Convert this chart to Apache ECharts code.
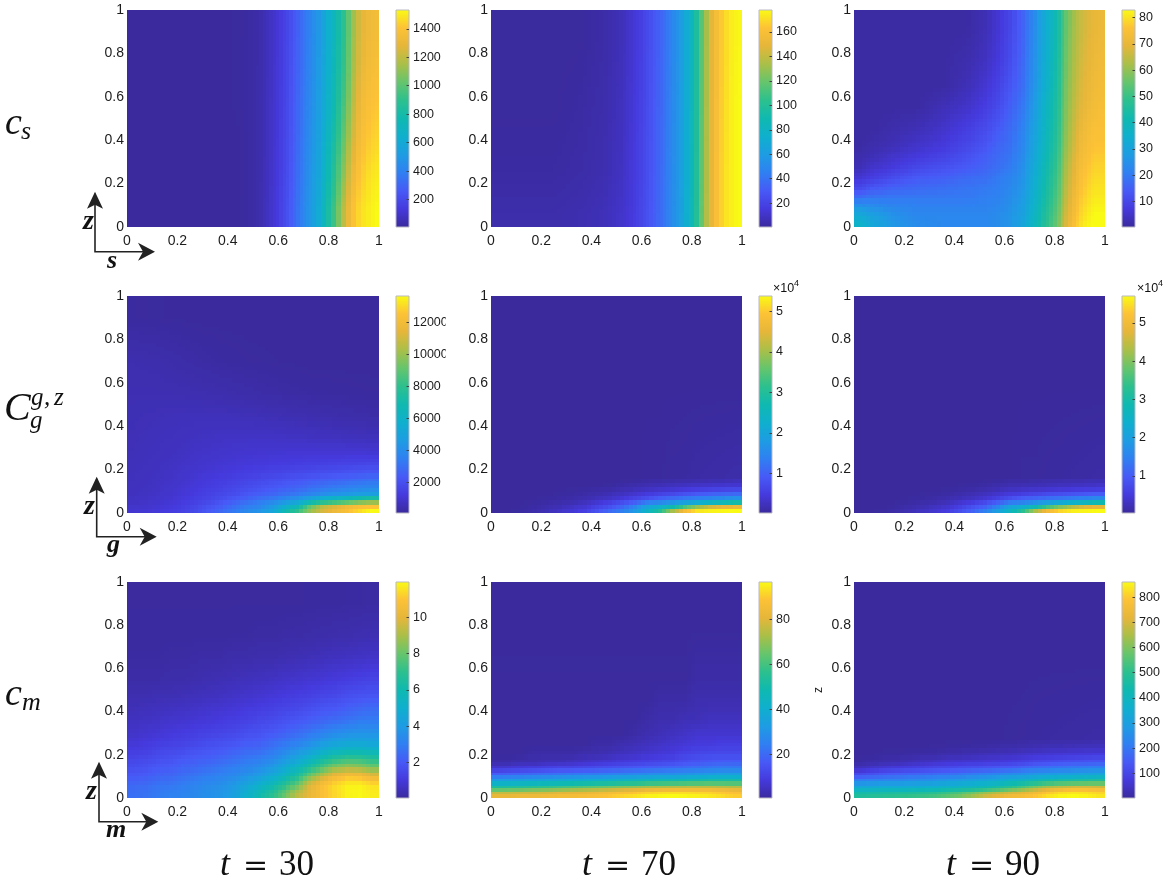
<!DOCTYPE html>
<html><head><meta charset="utf-8">
<script src="https://cdn.jsdelivr.net/npm/echarts@6/dist/echarts.min.js"></script>
<style>html,body{margin:0;padding:0;background:#fff}#c{width:1170px;height:881px}</style></head>
<body><div id="c"></div><script>
// ---- shared axis edges ----
const topX=[0,.1,.2,.3,.4,.5,.54,.58,.62,.66,.7,.725,.75,.77,.79,.81,.83,.85,.87,.89,.91,.93,.95,.97,.985,1];
const x20=[0,.05,.1,.15,.2,.25,.3,.35,.4,.45,.5,.55,.6,.65,.7,.75,.8,.85,.9,.95,1];
const parula=['#3a2a9c','#4539dc','#4759f6','#307ff2','#1e9ce3','#0fafce','#0fb9b0','#2cc08e','#66c56c','#aabf48','#e6b63a','#fdc236','#f9fb14'];
// ---- row 1: c_s ----
const csT30Z=[0,.15,.3,.5,.65,.8,1];
const csT30=[
[8,8,8,9,10,30,80,140,230,350,450,520,610,720,820,930,1060,1190,1310,1400,1450,1480,1500,1520,1530],
[8,8,8,9,11,30,75,135,215,330,430,500,580,670,770,870,980,1100,1230,1330,1400,1440,1470,1490,1500],
[8,8,9,9,11,30,72,130,205,315,410,475,550,630,720,810,910,1020,1140,1250,1340,1390,1420,1440,1450],
[9,9,9,10,12,30,72,125,200,305,395,455,525,600,680,760,850,950,1070,1190,1290,1350,1380,1400,1410],
[9,9,9,10,12,30,70,122,195,295,380,440,510,580,655,735,815,910,1030,1150,1250,1310,1345,1365,1375],
[9,9,9,10,12,28,68,120,190,285,370,430,495,565,640,715,795,890,1010,1130,1230,1290,1320,1340,1350]];
const csT70Z=[0,.1,.4,.7,1];
const csT70=[
[4,4,4,5,7,11,15,21,29,38,47,55,64,74,86,100,118,136,150,160,167,172,175,177,178],
[2,2,2,3,5,9,14,20,28,37,46,54,63,73,85,99,117,135,150,160,167,172,175,177,178],
[1,1,1,2,4,8,13,19,27,36,45,53,62,72,84,98,116,134,149,159,166,171,175,177,178],
[1,1,1,1,3,7,12,18,26,35,44,52,61,71,83,97,115,133,148,158,165,170,174,176,177]];
const csT90X=[0,.05,.1,.2,.3,.4,.5,.55,.6,.65,.7,.73,.765,.795,.825,.855,.885,.915,.945,.975,1];
const csT90Z=[0,.03,.07,.11,.15,.2,.25,.3,.35,.4,.5,.6,.7,.85,1];
const csT90=[
[36,32,27,24,23,23,23,24,26,31,38,44,50,56,66,73,79,82,83,83],
[33,30,26,23,23,23,23,24,26,30,37,43,49,55,65,72,78,81,83,83],
[27,25,23,22,22,22,22,23,25,29,36,42,48,54,64,71,77,80,82,82],
[19,20,20,20,20,20,21,22,24,28,35,41,47,53,63,70,76,79,81,81],
[11,14,16,17,18,19,20,21,23,27,34,40,46,52,62,69,75,78,80,80],
[6,8,11,14,15,17,18,20,22,26,33,39,45,51,61,68,74,77,79,79],
[3,5,7,10,12,14,16,18,20,25,32,38,44,50,60,67,73,76,78,78],
[2,3,5,7,9,12,15,17,19,24,31,37,43,49,59,66,72,75,77,77],
[1,2,3,5,7,10,13,16,18,23,30,36,42,48,58,65,71,74,76,76],
[1,1,2,3,5,8,11,14,17,22,29,35,41,47,57,64,70,73,75,75],
[1,1,1,1,3,5,8,11,15,20,27,34,40,46,56,63,68,71,73,74],
[1,1,1,1,1,3,6,9,13,18,25,32,38,45,55,62,67,70,72,73],
[1,1,1,1,1,2,4,7,11,17,24,31,37,44,54,61,66,69,71,72],
[1,1,1,1,1,1,3,6,10,16,23,30,36,43,53,60,65,68,70,71]];
// ---- row 2: C_g ----
const cgT30Z=[0,.02,.04,.06,.08,.1,.13,.16,.2,.25,.3,.4,.5,.6,.8,1];
const cgT30=[
[1000,1050,1150,1300,1500,1800,2300,2800,3300,3800,4300,5000,6500,8000,9800,11000,11700,12300,13000,13600],
[900,950,1050,1200,1400,1700,2100,2500,3000,3400,3800,4500,5600,6800,9000,10500,11200,11800,12300,12500],
[800,850,950,1100,1300,1500,1800,2200,2600,3000,3400,3900,4500,5300,6800,7800,8400,9000,9600,10000],
[750,800,900,1000,1200,1400,1600,1900,2200,2500,2900,3200,3600,4100,4800,5500,6000,6400,6900,7200],
[700,750,850,950,1100,1300,1500,1700,1900,2200,2500,2700,3000,3300,3700,4000,4300,4500,4700,4800],
[680,720,800,900,1050,1200,1350,1500,1700,1900,2100,2300,2500,2700,3000,3200,3400,3600,3800,3900],
[650,700,760,850,950,1100,1250,1350,1500,1650,1800,2000,2150,2300,2500,2650,2800,2950,3100,3200],
[630,680,730,800,900,1000,1100,1200,1300,1400,1500,1600,1700,1800,1900,2000,2100,2200,2300,2400],
[600,650,700,760,830,900,970,1040,1100,1150,1200,1250,1300,1350,1400,1450,1500,1550,1600,1650],
[580,620,660,710,760,820,870,920,960,1000,1020,1040,1060,1070,1080,1080,1080,1080,1070,1050],
[560,590,620,650,690,720,750,780,800,800,800,790,770,750,720,700,670,640,620,600],
[530,550,570,590,600,610,610,600,590,570,540,510,480,450,420,390,360,330,310,290],
[480,480,480,470,460,440,420,390,360,330,300,270,240,220,200,190,180,170,160,150],
[420,400,380,340,300,260,220,190,170,150,140,130,120,110,100,100,100,100,100,100],
[150,140,130,120,110,100,100,100,100,100,100,100,100,100,100,100,100,100,100,100]];
const cgLateZ=[0,.02,.04,.06,.08,.1,.12,.14,.16,.18,1];
const cgT70=[
[.02,.03,.06,.12,.2,.3,.4,.55,.8,1.1,1.35,1.8,2.4,3.0,4.0,4.8,5.2,5.3,5.35,5.38],
[.02,.02,.04,.08,.14,.2,.3,.4,.6,.8,1.05,1.5,2.0,2.3,2.7,3.4,3.9,4.3,4.5,4.6],
[.02,.02,.03,.05,.08,.12,.17,.25,.4,.55,.75,1.0,1.35,1.5,1.7,1.95,2.15,2.4,2.6,2.8],
[.02,.02,.02,.03,.05,.07,.1,.15,.22,.3,.42,.6,.75,.95,1.1,1.25,1.35,1.45,1.55,1.65],
[.02,.02,.02,.02,.03,.04,.06,.09,.13,.2,.27,.38,.48,.58,.68,.8,.9,.98,1.05,1.1],
[.02,.02,.02,.02,.02,.03,.04,.05,.08,.1,.16,.22,.28,.34,.4,.46,.52,.58,.62,.66],
[.02,.02,.02,.02,.02,.02,.02,.02,.03,.04,.08,.12,.17,.2,.23,.27,.3,.33,.36,.38],
[.02,.02,.02,.02,.02,.02,.02,.02,.02,.02,.04,.05,.08,.1,.12,.14,.16,.18,.2,.22],
[.02,.02,.02,.02,.02,.02,.02,.02,.02,.02,.02,.02,.03,.03,.05,.06,.08,.09,.1,.11],
[.02,.02,.02,.02,.02,.02,.02,.02,.02,.02,.02,.02,.02,.02,.02,.02,.02,.02,.02,.02]];
const cgT90=[
[.03,.04,.06,.12,.2,.3,.4,.55,.8,1.1,1.5,2.0,2.6,3.3,4.3,5.0,5.4,5.6,5.65,5.7],
[.03,.03,.04,.08,.14,.2,.3,.4,.6,.85,1.1,1.55,2.1,2.4,2.85,3.5,4.0,4.4,4.7,4.8],
[.03,.03,.03,.05,.08,.12,.17,.25,.4,.55,.75,1.05,1.4,1.55,1.75,2.0,2.25,2.45,2.65,2.85],
[.03,.03,.03,.03,.05,.07,.1,.16,.22,.3,.42,.6,.8,1.0,1.1,1.2,1.3,1.4,1.5,1.6],
[.03,.03,.03,.03,.03,.05,.06,.09,.14,.2,.28,.38,.5,.58,.66,.75,.82,.88,.95,1.0],
[.03,.03,.03,.03,.03,.03,.04,.05,.08,.11,.16,.22,.3,.34,.38,.42,.46,.5,.53,.56],
[.03,.03,.03,.03,.03,.03,.03,.03,.05,.06,.09,.13,.18,.2,.22,.24,.27,.3,.32,.34],
[.03,.03,.03,.03,.03,.03,.03,.03,.03,.03,.05,.06,.1,.11,.12,.16,.17,.18,.2,.22],
[.03,.03,.03,.03,.03,.03,.03,.03,.03,.03,.03,.03,.03,.05,.05,.06,.07,.08,.09,.1],
[.03,.03,.03,.03,.03,.03,.03,.03,.03,.03,.03,.03,.03,.03,.03,.03,.03,.03,.03,.03]];
// ---- row 3: c_m ----
const cmT30Z=[0,.04,.08,.12,.16,.2,.24,.28,.32,.38,.44,.5,.6,.7,.8,1];
const cmT30=[
[2.6,2.7,2.9,3.1,3.2,3.4,3.6,3.8,4.2,5,6,6.8,7.9,9.3,10.1,10.8,11.3,11.8,11.9,11.7],
[2.4,2.5,2.7,2.8,3,3.2,3.4,3.6,3.9,4.4,5.1,5.8,6.8,8,9.8,10.8,11.4,11.8,11.8,11.5],
[2,2.1,2.3,2.4,2.6,2.8,3,3.2,3.4,3.7,4.1,4.7,5.5,6.6,8.2,9.4,10.4,10.9,10.8,10.2],
[1.7,1.8,2,2.1,2.3,2.4,2.6,2.8,3,3.2,3.5,3.9,4.6,5.5,6.5,7.5,8.5,8.9,8.7,8.2],
[1.4,1.5,1.7,1.8,2,2.1,2.2,2.4,2.6,2.8,3,3.3,3.8,4.5,5.3,6.1,6.8,7.2,7.1,6.8],
[1.1,1.2,1.4,1.5,1.6,1.8,1.9,2,2.2,2.4,2.5,2.8,3.2,3.7,4.2,4.8,5.3,5.6,5.6,5.4],
[.9,1,1.1,1.2,1.3,1.4,1.6,1.7,1.8,2,2.1,2.4,2.7,3,3.4,3.8,4.2,4.4,4.4,4.3],
[.7,.8,.9,1,1.1,1.2,1.3,1.4,1.5,1.7,1.8,2,2.2,2.5,2.8,3.1,3.4,3.6,3.7,3.7],
[.6,.65,.7,.8,.85,.95,1,1.1,1.2,1.3,1.5,1.6,1.8,2,2.2,2.4,2.6,2.8,3,3],
[.45,.5,.55,.6,.65,.7,.8,.85,.95,1.05,1.15,1.25,1.4,1.5,1.7,1.9,2,2.2,2.4,2.5],
[.35,.35,.4,.4,.45,.5,.55,.6,.7,.75,.85,.95,1.05,1.15,1.25,1.4,1.5,1.7,1.8,1.9],
[.2,.2,.2,.25,.25,.3,.35,.4,.45,.5,.55,.6,.7,.75,.85,.9,1,1.1,1.2,1.3],
[.12,.12,.12,.15,.15,.18,.2,.2,.25,.25,.3,.3,.35,.4,.45,.5,.55,.6,.65,.7],
[.1,.1,.1,.1,.1,.1,.1,.1,.12,.12,.15,.15,.18,.2,.22,.25,.28,.3,.35,.38],
[.08,.08,.08,.08,.08,.08,.08,.08,.08,.08,.08,.08,.08,.08,.09,.1,.1,.12,.12,.15]];
const cmT70Z=[0,.03,.06,.09,.12,.15,.18,.22,.27,.32,.4,.5,.6,1];
const cmT70=[
[82,82,83,83,84,85,85,86,87,89,91,93,95,96,96.6,96,95,94,92,90],
[58,59,60,62,63,65,67,69,71,73,75,77,79,80,81,82,82,82,81,80],
[37,38,39,40,41,42,43,44,45,46,48,49,51,52,53,54,55,56,56,56],
[20,21,22,23,24,25,26,27,27,28,29,30,31,32,32,33,34,35,36,36],
[8,9,10,11,12,13,13,14,15,16,17,18,19,20,21,22,23,24,25,25],
[2,2,3,3,4,4,5,6,7,8,9,10,11,12,13,15,16,17,18,18],
[1,1,1,2,2,2,2,3,3,4,5,6,7,8,9,11,12,13,13,13],
[1,1,1,1,1,1,1,1,2,2,3,4,5,6,7,8,9,9,10,10],
[1,1,1,1,1,1,1,1,1,1,1,2,3,4,5,6,7,7,7,7],
[1,1,1,1,1,1,1,1,1,1,1,1,2,3,3,4,4,5,5,5],
[1,1,1,1,1,1,1,1,1,1,1,1,1,2,2,2,3,3,3,3],
[1,1,1,1,1,1,1,1,1,1,1,1,1,1,1,1,2,2,2,2],
[.7,.7,.7,.7,.7,.7,.7,.7,.7,.7,.7,.7,.7,.7,.7,.7,.7,.7,.7,.7]];
const cmT90Z=[0,.03,.06,.09,.12,.15,.18,.21,.25,.3,1];
const cmT90=[
[473,482,490,499,507,516,533,559,585,636,688,722,748,765,791,826,851,860,851,834],
[361,361,370,370,370,378,387,404,413,430,456,490,533,585,645,697,731,757,757,748],
[241,249,258,258,267,275,284,301,310,327,344,361,387,413,447,473,490,499,507,516],
[129,146,163,172,181,189,198,206,215,232,241,258,275,284,301,310,318,327,335,344],
[43,60,77,86,95,103,112,120,129,138,146,155,163,181,198,206,215,224,232,241],
[9,17,22,26,34,43,52,60,65,69,73,77,86,95,112,120,129,138,142,146],
[4,4,9,9,13,17,17,26,26,34,39,43,47,56,65,69,73,77,82,86],
[3,3,3,3,4,4,6,7,9,11,13,17,20,24,30,34,37,39,41,43],
[3,3,3,3,3,3,3,3,3,3,4,4,5,6,8,9,10,11,12,13],
[3,3,3,3,3,3,3,3,3,3,3,3,3,3,3,3,3,3,3,3]];
// ---- colour bars ----
const cbTicks=[
[200,400,600,800,1000,1200,1400],[20,40,60,80,100,120,140,160],[10,20,30,40,50,60,70,80],
[2000,4000,6000,8000,10000,12000],[1,2,3,4,5],[1,2,3,4,5],
[2,4,6,8,10],[20,40,60,80],[100,200,300,400,500,600,700,800]];
const cbMin=[7,.5,.3,88,.02,.03,.03,.6,2];
const cbMax=[1532,178,82.9,13625,5.38,5.7,11.95,96.6,860];
const colLabels=['30','70','90'];
const panels=[
[topX,csT30Z,csT30],[topX,csT70Z,csT70],[csT90X,csT90Z,csT90],
[x20,cgT30Z,cgT30],[x20,cgLateZ,cgT70],[x20,cgLateZ,cgT90],
[x20,cmT30Z,cmT30],[x20,cmT70Z,cmT70],[x20,cmT90Z,cmT90]];

const L=[127,491,854], W=[252,251,251], CL=[396,759,1122], CW=13;
const T=[10,296,582], H=[217,217,216];
const tickCol='#1c1c1c';
const centres=e=>e.slice(0,-1).map((v,i)=>(v+e[i+1])/2);
const bracket=(c,v)=>{
  if(v<=c[0])return [0,0,0];
  const n=c.length-1;
  if(v>=c[n])return [n,n,0];
  let i=0;while(c[i+1]<v)i++;
  return [i,i+1,(v-c[i])/(c[i+1]-c[i])];
};
// interpolated shading of the cell grid, as the reference's plot does
const shader=(xe,ze,rows)=>{
  const xc=centres(xe),zc=centres(ze);
  return (x,z)=>{
    const [a,b,t]=bracket(xc,x),[c,d,u]=bracket(zc,z);
    return (rows[c][a]*(1-t)+rows[c][b]*t)*(1-u)+(rows[d][a]*(1-t)+rows[d][b]*t)*u;
  };
};
const grids=[],xAxes=[],yAxes=[],series=[];
const axisFmt=v=>String(+v.toFixed(1));
panels.forEach((p,i)=>{
  const r=Math.floor(i/3),c=i%3,[xe,ze,rows]=p,cells=[];
  rows.forEach((row,j)=>row.forEach((v,k)=>cells.push([xe[k],xe[k+1],ze[j],ze[j+1],v])));
  const shade=shader(xe,ze,rows),lo=cbMin[i],hi=cbMax[i];
  grids.push({left:L[c],top:T[r],width:W[c],height:H[r]});
  xAxes.push({gridIndex:2*i,type:'value',min:0,max:1,interval:.2,splitLine:{show:false},
    axisLine:{show:false,onZero:false},axisTick:{show:false},
    axisLabel:{margin:7,fontSize:14,color:tickCol,fontFamily:'Liberation Sans',formatter:axisFmt}});
  yAxes.push({gridIndex:2*i,type:'value',min:0,max:1,interval:.2,splitLine:{show:false},
    name:i===8?'z':'',nameLocation:'middle',nameGap:29,nameTextStyle:{fontSize:12,color:tickCol,fontFamily:'Liberation Sans'},
    axisLine:{show:false,onZero:false},axisTick:{show:false},
    axisLabel:{margin:3,fontSize:14,color:tickCol,fontFamily:'Liberation Sans',formatter:axisFmt}});
  series.push({type:'custom',xAxisIndex:2*i,yAxisIndex:2*i,clip:true,silent:true,progressive:0,data:cells,
    encode:{x:[0,1],y:[2,3]},
    renderItem:(params,api)=>{
      const x0=api.value(0),x1=api.value(1),z0=api.value(2),z1=api.value(3);
      const a=api.coord([x0,z1]),b=api.coord([x1,z0]);
      const nx=Math.max(1,Math.round((b[0]-a[0])/4)),ny=Math.max(1,Math.round((b[1]-a[1])/4)),kids=[];
      for(let iy=0;iy<ny;iy++)for(let ix=0;ix<nx;ix++){
        const px=Math.floor(a[0]+(b[0]-a[0])*ix/nx),py=Math.floor(a[1]+(b[1]-a[1])*iy/ny);
        const qx=Math.ceil(a[0]+(b[0]-a[0])*(ix+1)/nx),qy=Math.ceil(a[1]+(b[1]-a[1])*(iy+1)/ny);
        const v=shade(x0+(x1-x0)*(ix+.5)/nx,z1-(z1-z0)*(iy+.5)/ny);
        kids.push({type:'rect',shape:{x:px,y:py,width:qx-px,height:qy-py},
          style:{fill:echarts.color.lerp(Math.max(0,Math.min(1,(v-lo)/(hi-lo))),parula)}});
      }
      return {type:'group',children:kids};
    }});
  // colour bar
  grids.push({left:CL[c],top:T[r],width:CW,height:H[r]});
  xAxes.push({gridIndex:2*i+1,type:'value',min:0,max:1,show:false});
  yAxes.push({gridIndex:2*i+1,type:'value',position:'right',min:lo,max:hi,z:5,splitLine:{show:false},
    axisLine:{show:false,onZero:false},
    axisTick:{show:true,inside:true,length:2.5,lineStyle:{color:'#444',width:1},customValues:cbTicks[i]},
    axisLabel:{margin:4,fontSize:12.5,color:tickCol,fontFamily:'Liberation Sans',customValues:cbTicks[i],formatter:v=>String(v)}});
  series.push({type:'custom',xAxisIndex:2*i+1,yAxisIndex:2*i+1,silent:true,z:1,data:[[0,1,lo,hi]],
    encode:{x:[0,1],y:[2,3]},
    renderItem:(params,api)=>{
      const a=api.coord([api.value(0),api.value(3)]),b=api.coord([api.value(1),api.value(2)]);
      return {type:'rect',shape:{x:a[0],y:a[1],width:b[0]-a[0],height:b[1]-a[1]},
        style:{stroke:'#b9b9c4',lineWidth:1,
          fill:new echarts.graphic.LinearGradient(0,1,0,0,parula.map((col,n)=>({offset:n/(parula.length-1),color:col})))}};
    }});
});

// ---- annotations ----
const serif='"Liberation Serif"', g=[];
// y is the text baseline
const txt=(s,x,y,size,o={})=>g.push({type:'text',z:50,style:{text:s,x,y:y-size*0.8,fill:'#111',
  font:`${o.style||'italic'} ${o.weight||'normal'} ${size}px ${o.fam||serif}`,textVerticalAlign:'top'}});
txt('c',5,135,38); txt('s',21,140,26);
txt('C',4,421,40); txt('g',31,406,25); txt(',',44,406,25); txt('z',54,406,25); txt('g',30,429,25);
txt('c',5,706,38); txt('m',22,711,26);
colLabels.forEach((lab,i)=>{const cx=[267,629,993][i];
  txt('t',cx-47,876,36);
  txt('=',cx-24,876,30,{style:'normal',fam:'"DejaVu Serif"'});
  txt(lab,cx+12,876,35,{style:'normal'});});
const arrow=(ox,oy,ry,zlab,xlab)=>{
  g.push({type:'polyline',z:50,shape:{points:[[ox,oy-58],[ox,oy],[ry-10,oy]]},style:{stroke:'#222',lineWidth:1.6,fill:null}});
  g.push({type:'polygon',z:50,shape:{points:[[ox,oy-60],[ox-8,oy-43],[ox,oy-47],[ox+8,oy-43]]},style:{fill:'#222'}});
  g.push({type:'polygon',z:50,shape:{points:[[ry,oy],[ry-17,oy-9],[ry-12,oy],[ry-17,oy+9]]},style:{fill:'#222'}});
  txt('z',zlab[0],zlab[1],28,{weight:'bold'}); txt(xlab[2],xlab[0],xlab[1],26,{weight:'bold'});
};
arrow(95,251.7,155,[83,230],[107,269,'s']);
arrow(96.7,536.7,156.7,[84,515],[107,553,'g']);
arrow(99,821.7,158.3,[86,800],[106,838,'m']);
// ×10^4 above the colour bars
[[773,292],[1137,292]].forEach(a=>{
  txt('×10',a[0],a[1],12.5,{style:'normal',fam:'"Liberation Sans"'});
  txt('4',a[0]+21,a[1]-6,9,{style:'normal',fam:'"Liberation Sans"'});
});
// source image cuts the 12000/10000 labels at this edge
g.push({type:'rect',z:60,shape:{x:445.8,y:300,width:6,height:70},style:{fill:'#fff'}});

echarts.init(document.getElementById('c'),null,{renderer:'canvas'}).setOption({
  animation:false,backgroundColor:'#fff',tooltip:{show:false},
  grid:grids,xAxis:xAxes,yAxis:yAxes,series:series,graphic:{elements:g}
});
</script></body></html>
